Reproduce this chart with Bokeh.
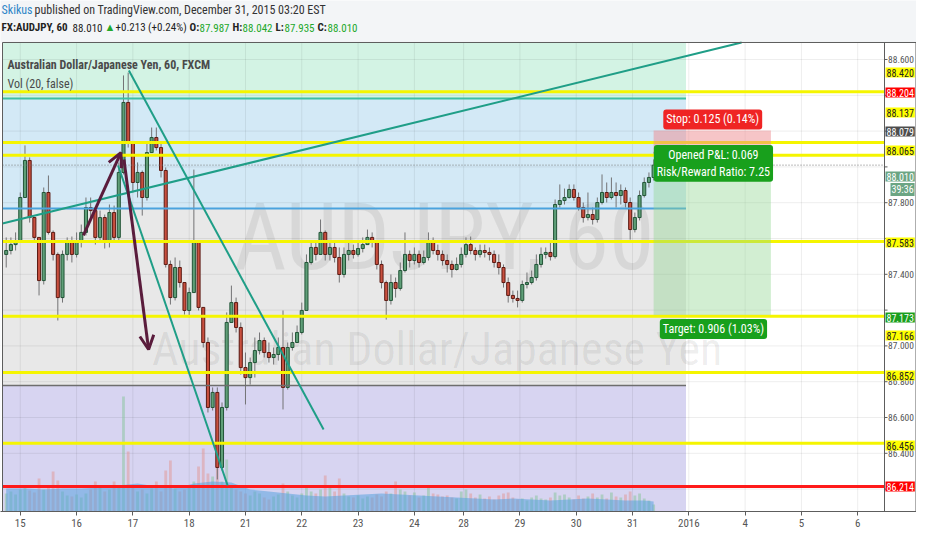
from bokeh.plotting import figure
from bokeh.models import (Range1d, FixedTicker, Label, Arrow, OpenHead, ColumnDataSource)
from bokeh.embed import file_html
from bokeh.resources import INLINE
from bokeh.core.properties import value

FONT = "Roboto Condensed, Roboto"

# ---------------- data (2-hour bars, x = trading hours since Dec 15 00:00) ----------------
bar_hours = list(range(-6, 271, 2))

opens = [87.511, 87.533, 87.566, 87.589, 87.829, 88.036, 87.717, 87.606, 87.365, 87.857,
         87.634, 87.511, 87.270, 87.511, 87.578, 87.511, 87.578, 87.634, 87.773, 87.756,
         87.606, 87.717, 87.578, 87.745, 87.606, 87.969, 88.360, 88.136, 87.913, 87.969,
         87.829, 88.080, 88.164, 88.108, 87.980, 87.455, 87.270, 87.438, 87.354, 87.198,
         87.298, 87.578, 87.215, 87.019, 86.656, 86.740, 86.321, 86.656, 87.131, 87.242,
         87.103, 86.879, 86.823, 86.907, 86.974, 87.030, 86.963, 86.935, 86.952, 86.991,
         86.768, 86.991, 87.019, 87.075, 87.198, 87.466, 87.550, 87.511, 87.634, 87.511,
         87.550, 87.494, 87.399, 87.511, 87.533, 87.511, 87.544, 87.566, 87.606, 87.578,
         87.455, 87.354, 87.254, 87.354, 87.321, 87.421, 87.511, 87.477, 87.511, 87.466,
         87.494, 87.589, 87.533, 87.511, 87.477, 87.455, 87.427, 87.455, 87.511, 87.566,
         87.533, 87.511, 87.533, 87.522, 87.511, 87.466, 87.438, 87.354, 87.282, 87.265,
         87.254, 87.343, 87.354, 87.382, 87.455, 87.511, 87.522, 87.499, 87.790, 87.812,
         87.829, 87.874, 87.829, 87.773, 87.717, 87.734, 87.706, 87.801, 87.857, 87.829,
         87.857, 87.840, 87.868, 87.801, 87.650, 87.717, 87.840, 87.913, 87.941]

closes = [87.533, 87.566, 87.589, 87.829, 88.036, 87.717, 87.606, 87.365, 87.857, 87.634,
          87.511, 87.270, 87.511, 87.578, 87.511, 87.578, 87.634, 87.773, 87.756, 87.606,
          87.717, 87.578, 87.745, 87.606, 87.969, 88.360, 88.136, 87.913, 87.969, 87.829,
          88.080, 88.164, 88.108, 87.980, 87.455, 87.270, 87.438, 87.354, 87.198, 87.298,
          87.578, 87.215, 87.019, 86.656, 86.740, 86.321, 86.656, 87.131, 87.242, 87.103,
          86.879, 86.823, 86.907, 86.974, 87.030, 86.963, 86.935, 86.952, 86.991, 86.768,
          86.991, 87.019, 87.075, 87.198, 87.466, 87.550, 87.511, 87.634, 87.511, 87.550,
          87.494, 87.399, 87.511, 87.533, 87.511, 87.544, 87.566, 87.606, 87.578, 87.455,
          87.354, 87.254, 87.354, 87.321, 87.421, 87.511, 87.477, 87.511, 87.466, 87.494,
          87.589, 87.533, 87.511, 87.477, 87.455, 87.427, 87.455, 87.511, 87.566, 87.533,
          87.511, 87.533, 87.522, 87.511, 87.466, 87.438, 87.354, 87.282, 87.265, 87.254,
          87.343, 87.354, 87.382, 87.455, 87.511, 87.522, 87.499, 87.790, 87.812, 87.829,
          87.874, 87.829, 87.773, 87.717, 87.734, 87.706, 87.801, 87.857, 87.829, 87.857,
          87.840, 87.868, 87.801, 87.650, 87.717, 87.840, 87.913, 87.941, 88.010]

highs = [87.606, 87.606, 87.634, 87.857, 88.120, 88.053, 87.717, 87.606, 87.885, 87.952,
         87.645, 87.522, 87.533, 87.606, 87.611, 87.634, 87.678, 87.829, 87.829, 87.773,
         87.756, 87.734, 87.790, 87.784, 88.025, 88.511, 88.527, 88.136, 88.025, 87.980,
         88.136, 88.220, 88.220, 88.136, 87.997, 87.477, 87.494, 87.477, 87.354, 87.326,
         87.985, 87.589, 87.215, 87.047, 86.768, 86.768, 86.684, 87.187, 87.337, 87.270,
         87.131, 86.963, 86.935, 87.047, 87.075, 87.047, 87.019, 86.991, 87.047, 87.198,
         87.019, 87.075, 87.114, 87.242, 87.511, 87.589, 87.578, 87.706, 87.645, 87.589,
         87.578, 87.550, 87.550, 87.578, 87.566, 87.578, 87.606, 87.650, 87.634, 87.589,
         87.477, 87.365, 87.399, 87.382, 87.466, 87.634, 87.533, 87.550, 87.533, 87.533,
         87.634, 87.606, 87.566, 87.533, 87.511, 87.477, 87.494, 87.550, 87.606, 87.611,
         87.550, 87.566, 87.566, 87.550, 87.533, 87.511, 87.455, 87.382, 87.309, 87.309,
         87.365, 87.410, 87.421, 87.511, 87.550, 87.550, 87.589, 87.818, 87.902, 87.879,
         87.902, 87.902, 87.857, 87.801, 87.857, 87.773, 87.829, 87.958, 87.913, 87.941,
         87.913, 87.902, 87.885, 87.829, 87.745, 87.868, 87.941, 87.969, 88.042]

lows = [87.438, 87.511, 87.533, 87.589, 87.829, 87.689, 87.578, 87.282, 87.343, 87.622,
        87.477, 87.142, 87.242, 87.477, 87.466, 87.494, 87.550, 87.617, 87.701, 87.566,
        87.578, 87.544, 87.550, 87.578, 87.589, 87.958, 88.108, 87.857, 87.829, 87.728,
        87.812, 88.080, 88.092, 87.941, 87.438, 87.231, 87.254, 87.326, 87.175, 87.159,
        87.298, 87.198, 86.991, 86.628, 86.639, 86.254, 86.304, 86.639, 87.131, 87.075,
        86.840, 86.673, 86.784, 86.823, 86.952, 86.935, 86.907, 86.896, 86.918, 86.645,
        86.756, 86.974, 87.019, 87.064, 87.198, 87.455, 87.477, 87.511, 87.477, 87.477,
        87.466, 87.354, 87.382, 87.477, 87.488, 87.499, 87.522, 87.566, 87.550, 87.427,
        87.321, 87.147, 87.231, 87.270, 87.309, 87.410, 87.438, 87.455, 87.438, 87.455,
        87.477, 87.511, 87.477, 87.449, 87.410, 87.382, 87.421, 87.438, 87.494, 87.511,
        87.477, 87.494, 87.494, 87.477, 87.438, 87.399, 87.326, 87.242, 87.242, 87.215,
        87.242, 87.321, 87.343, 87.365, 87.438, 87.488, 87.477, 87.488, 87.773, 87.790,
        87.823, 87.812, 87.756, 87.689, 87.701, 87.678, 87.689, 87.790, 87.801, 87.818,
        87.773, 87.790, 87.773, 87.594, 87.634, 87.701, 87.829, 87.885, 87.924]

volumes = [18, 20, 17, 22, 24, 21, 19, 33, 22, 25,
           40, 31, 20, 16, 15, 17, 14, 18, 22, 30,
           24, 20, 22, 30, 26, 115, 60, 24, 20, 22,
           18, 23, 30, 20, 41, 51, 24, 20, 22, 24,
           30, 45, 63, 38, 35, 50, 30, 52, 26, 22,
           20, 18, 16, 20, 18, 14, 12, 15, 17, 28,
           20, 16, 14, 18, 24, 20, 18, 22, 36, 24,
           20, 33, 18, 15, 14, 16, 13, 15, 14, 17,
           15, 20, 18, 30, 22, 20, 16, 19, 14, 16,
           24, 18, 17, 15, 16, 14, 13, 20, 22, 18,
           14, 17, 13, 15, 12, 16, 18, 19, 14, 12,
           13, 11, 14, 16, 13, 12, 14, 19, 16, 17,
           14, 12, 16, 13, 15, 18, 14, 17, 13, 19,
           15, 14, 17, 20, 16, 18, 13, 11, 7]

vol_ma_hours = [-6, 2, 10, 18, 26, 34, 42, 50, 58, 66, 74, 82, 90, 98, 106, 114, 122, 130,
                138, 146, 154, 162, 170, 178, 186, 194, 202, 210, 218, 226, 234, 242, 250,
                258, 266, 270]
vol_ma = [23, 23, 22, 23, 23, 24, 26, 28, 25, 23, 28, 30, 29, 22, 20, 18, 16, 15,
          16, 17, 18, 17, 16, 15, 14, 13, 12, 13, 12, 11, 12, 13, 12, 11, 11, 10]

day_ticks = [0, 24, 48, 72, 96, 120, 144, 168, 189, 213, 237, 261, 285, 309, 333, 357]
day_labels = ["15", "16", "17", "18", "21", "22", "23", "24", "28", "29", "30", "31",
              "2016", "4", "5", "6"]
price_ticks = [86.2, 86.4, 86.6, 86.8, 87.0, 87.2, 87.4, 87.6, 87.8, 88.0, 88.2, 88.4, 88.6]
price_ticks_shown = [88.6, 87.8, 87.4, 87.0, 86.8, 86.6, 86.4]

yellow_levels = [88.420, 88.137, 88.065, 87.583, 87.166, 86.852, 86.456]
red_level = 86.214
last_price = 88.010

zone_bottoms = [88.382, 87.768, 86.779, 85.900]
zone_tops = [88.695, 88.382, 87.768, 86.779]
zone_colors = ["#d3f3e4", "#d3e9f6", "#e8e8e8", "#d7d4f1"]
zone_end = 283.8

# drawing objects (hour, price)
trend_up_x, trend_up_y = [-7.6, 307.5], [87.684, 88.695]
trend_dn1_x, trend_dn1_y = [46.3, 129.3], [88.539, 86.533]
trend_dn2_x, trend_dn2_y = [41.7, 88.4], [88.008, 86.220]
arrow_up = (26.9, 87.617, 42.9, 88.080)
arrow_dn = (44.2, 88.041, 54.7, 86.980)

pos_start, pos_end = 270, 320
pos_entry, pos_stop, pos_target = 88.079, 88.204, 87.173

# ---------------- layout constants ----------------
PLOT_LEFT, PLOT_RIGHT = -7.58, 368.42      # chart area in hours (pixels 2 .. 884)
HPX = (PLOT_RIGHT - PLOT_LEFT) / 882.0      # hours per pixel
X0, X1 = PLOT_LEFT - 2 * HPX, PLOT_RIGHT + 32 * HPX
Y0, Y1 = 86.0749, 88.9296
PLOT_TOP = 88.695

p = figure(width=916, height=534, output_backend="svg", toolbar_location=None,
           x_range=Range1d(X0, X1), y_range=Range1d(Y0, Y1),
           y_axis_location=None, min_border_left=0, min_border_right=0,
           min_border_top=0, min_border_bottom=23, background_fill_color="#f3f5f7",
           border_fill_color="white", outline_line_color=None)
p.extra_y_ranges = {"vol": Range1d(0, 511)}
p.xgrid.visible = False

ax = p.xaxis[0]
ax.ticker = FixedTicker(ticks=day_ticks)
ax.major_label_overrides = {t: l for t, l in zip(day_ticks, day_labels)}
ax.minor_tick_line_color = None
ax.major_tick_in = 0
ax.major_tick_out = 4
ax.axis_line_color = "#5d5d5d"
ax.major_tick_line_color = "#5d5d5d"
ax.major_label_text_font = FONT
ax.major_label_text_font_size = "11px"
ax.major_label_text_color = "#555555"
ax.major_label_standoff = 3

# chart background
p.quad(left=[X0], right=[X1], bottom=[Y0], top=[PLOT_TOP], fill_color="white", line_color=None)

# zones
p.quad(left=[PLOT_LEFT] * 4, right=[zone_end] * 4, bottom=zone_bottoms, top=zone_tops,
       fill_color=zone_colors, line_color=None)

# grid lines
p.segment(x0=day_ticks, x1=day_ticks, y0=[Y0] * len(day_ticks), y1=[PLOT_TOP] * len(day_ticks),
          line_color="#000000", line_alpha=0.07, line_width=1)
p.segment(x0=[PLOT_LEFT] * len(price_ticks), x1=[PLOT_RIGHT] * len(price_ticks), y0=price_ticks,
          y1=price_ticks, line_color="#000000", line_alpha=0.07, line_width=1)

# watermark
p.text(x=[180.6], y=[87.606], text=["AUDJPY, 60"], text_font=value(FONT),
       text_font_size="92px", text_color="#000000", text_alpha=0.07,
       text_align="center", text_baseline="middle")
p.text(x=[177.7], y=[86.985], text=["Australian Dollar/Japanese Yen"], text_font=value(FONT),
       text_font_size="46px", text_color="#000000", text_alpha=0.07,
       text_align="center", text_baseline="middle")

# volume
up = [c >= o for o, c in zip(opens, closes)]
vsrc = ColumnDataSource(dict(x=bar_hours, v=volumes,
                             c=["#8cc4a0" if u else "#e09a9a" for u in up]))
p.vbar(x="x", top="v", bottom=0, width=1.2, source=vsrc, y_range_name="vol",
       fill_color="c", fill_alpha=0.55, line_color=None)
p.varea(x=vol_ma_hours, y1=[0] * len(vol_ma), y2=vol_ma, y_range_name="vol",
        fill_color="#5aa2de", fill_alpha=0.55)

# candles
csrc = ColumnDataSource(dict(
    x=bar_hours, h=highs, l=lows,
    top=[max(o, c) for o, c in zip(opens, closes)],
    bot=[min(o, c) for o, c in zip(opens, closes)],
    fill=["#5f9f78" if u else "#c9503f" for u in up],
    edge=["#225437" if u else "#5b1a13" for u in up]))
p.segment(x0="x", y0="h", x1="x", y1="l", source=csrc, line_color="#737375", line_width=1)
p.vbar(x="x", top="top", bottom="bot", width=1.3, source=csrc,
       fill_color="fill", line_color="edge", line_width=1)

# horizontal levels
p.segment(x0=[PLOT_LEFT] * 3, x1=[zone_end] * 3, y0=[88.382, 87.768, 86.779],
          y1=[88.382, 87.768, 86.779], line_color=["#3fbfa3", "#4aa3de", "#6e6e6e"],
          line_width=[2, 2, 1.5])
n = len(yellow_levels)
p.segment(x0=[PLOT_LEFT] * n, x1=[PLOT_RIGHT] * n, y0=yellow_levels, y1=yellow_levels,
          line_color="#f5f500", line_width=3)
p.segment(x0=[PLOT_LEFT], x1=[PLOT_RIGHT], y0=[red_level], y1=[red_level],
          line_color="#ff1a1a", line_width=3)
p.segment(x0=[PLOT_LEFT], x1=[PLOT_RIGHT], y0=[last_price], y1=[last_price],
          line_color="#777777", line_width=1, line_dash="1 2")

# position tool
p.quad(left=[pos_start], right=[pos_end], bottom=[pos_entry], top=[pos_stop],
       fill_color="#ee8c90", fill_alpha=0.5, line_color=None)
p.quad(left=[pos_start], right=[pos_end], bottom=[pos_target], top=[pos_entry],
       fill_color="#8fd48f", fill_alpha=0.4, line_color=None)
p.segment(x0=[pos_start], x1=[pos_end], y0=[pos_entry], y1=[pos_entry],
          line_color="#8b6a58", line_width=2)

# trend lines
TEAL = "#1f9e87"
p.line(trend_up_x, trend_up_y, line_color=TEAL, line_width=2)
p.line(trend_dn1_x, trend_dn1_y, line_color=TEAL, line_width=2)
p.line(trend_dn2_x, trend_dn2_y, line_color=TEAL, line_width=2)

MAROON = "#5a1c3c"
for (xs, ys, xe, ye) in (arrow_up, arrow_dn):
    p.add_layout(Arrow(x_start=xs, y_start=ys, x_end=xe, y_end=ye, line_color=MAROON,
                       line_width=3, end=OpenHead(size=14, line_color=MAROON, line_width=3)))

# chart frame lines (top, left, price-scale line, right edge)
p.segment(x0=[PLOT_LEFT, PLOT_LEFT, PLOT_RIGHT, X1 - 0.5 * HPX],
          x1=[X1, PLOT_LEFT, PLOT_RIGHT, X1 - 0.5 * HPX],
          y0=[PLOT_TOP, Y0, Y0, Y0], y1=[PLOT_TOP, PLOT_TOP, PLOT_TOP, PLOT_TOP],
          line_color="#5d5d5d", line_width=1)
# price-scale tick marks
k = len(price_ticks)
p.segment(x0=[PLOT_RIGHT] * k, x1=[PLOT_RIGHT + 3 * HPX] * k, y0=price_ticks, y1=price_ticks,
          line_color="#5d5d5d", line_width=1)

# position labels
p.add_layout(Label(x=295.2, y=88.265, text="Stop: 0.125 (0.14%)", text_font=FONT,
                   text_font_size="12px", text_color="white", text_align="center",
                   text_baseline="middle", background_fill_color="#ef2424",
                   padding=3, border_radius=3))
p.add_layout(Label(x=295.5, y=88.02, text="Opened P&L: 0.069\nRisk/Reward Ratio: 7.25",
                   text_font=FONT, text_font_size="12px", text_color="white",
                   text_align="center", text_baseline="middle",
                   background_fill_color="#18a01c", padding=3, border_radius=3))
p.add_layout(Label(x=295.5, y=87.094, text="Target: 0.906 (1.03%)", text_font=FONT,
                   text_font_size="12px", text_color="white", text_align="center",
                   text_baseline="middle", background_fill_color="#18a01c",
                   padding=3, border_radius=3))

# chart info labels (screen units from frame bottom-left; frame height 511)
p.add_layout(Label(x=7, y=447, x_units="screen", y_units="screen",
                   text="Australian Dollar/Japanese Yen, 60, FXCM", text_font=FONT,
                   text_font_size="12px", text_font_style="bold", text_color="#4a4a4a",
                   text_baseline="middle"))
p.add_layout(Label(x=7, y=428, x_units="screen", y_units="screen",
                   text="Vol (20, false)", text_font=FONT, text_font_size="12px",
                   text_color="#4a4a4a", text_baseline="middle"))

# price scale tick labels
for t in price_ticks_shown:
    p.add_layout(Label(x=PLOT_RIGHT + 3.5 * HPX, y=t, text=f"{t:.3f}", text_font=FONT,
                       text_font_size="9.5px", text_color="#555555", text_baseline="middle"))

# price scale tags: (value, background, text colour, vertical position in screen px)
tags = [(88.420, "#ffff00", "#222222", 439), (88.204, "#ff0000", "#ffffff", 419),
        (88.137, "#ffff00", "#222222", 399), (88.079, "#4d4d4d", "#ffffff", 380),
        (88.065, "#ffff00", "#222222", 361), (88.010, "#6ba583", "#ffffff", 335),
        (87.583, "#ffff00", "#222222", 269), (87.173, "#1a9f1e", "#ffffff", 194),
        (87.166, "#ffff00", "#222222", 176), (86.852, "#ffff00", "#222222", 136),
        (86.456, "#ffff00", "#222222", 66), (86.214, "#ff0000", "#ffffff", 25)]
for v, bg, fg, sy in tags:
    p.add_layout(Label(x=PLOT_RIGHT + 1 * HPX, y=sy, y_units="screen", text=f"{v:.3f}",
                       text_font=FONT, text_font_size="10px", text_color=fg,
                       text_baseline="middle", background_fill_color=bg, padding=1))
p.add_layout(Label(x=PLOT_RIGHT + 6 * HPX, y=322, y_units="screen", text="39:36",
                   text_font=FONT, text_font_size="10px", text_color="white",
                   text_baseline="middle", background_fill_color="#6ba583", padding=1))

# header
HY1, HY2 = 502, 484
p.add_layout(Label(x=1, y=HY1, x_units="screen", y_units="screen", text="Skikus",
                   text_font=FONT, text_font_size="12px", text_color="#2f87c8",
                   text_baseline="middle"))
p.add_layout(Label(x=34, y=HY1, x_units="screen", y_units="screen",
                   text="published on TradingView.com, December 31, 2015 03:20 EST",
                   text_font=FONT, text_font_size="12px", text_color="#333333",
                   text_baseline="middle"))
header2 = [("FX:AUDJPY, 60", 1, "#222222", "bold"), ("88.010", 72, "#222222", "normal"),
           ("\u25b2", 104, "#22a82a", "normal"), ("+0.213 (+0.24%)", 115, "#222222", "normal"),
           ("O:", 189, "#222222", "bold"), ("87.987", 199, "#22a82a", "normal"),
           ("H:", 232, "#222222", "bold"), ("88.042", 242, "#22a82a", "normal"),
           ("L:", 275, "#222222", "bold"), ("87.935", 284, "#22a82a", "normal"),
           ("C:", 317, "#222222", "bold"), ("88.010", 327, "#22a82a", "normal")]
for txt, hx, col, sty in header2:
    p.add_layout(Label(x=hx, y=HY2, x_units="screen", y_units="screen", text=txt,
                       text_font=FONT, text_font_size="11px", text_color=col,
                       text_font_style=sty, text_baseline="middle"))

open("out.html", "w").write(file_html(p, INLINE))
